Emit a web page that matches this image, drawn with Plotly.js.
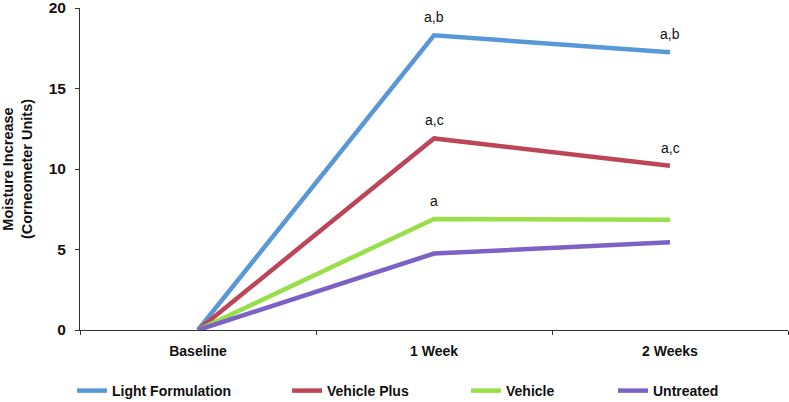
<!DOCTYPE html>
<html>
<head>
<meta charset="utf-8">
<script src="https://cdn.plot.ly/plotly-3.0.1.min.js"></script>
<style>
  html, body { margin: 0; padding: 0; background: #fff; }
  #plot { width: 789px; height: 402px; }
</style>
</head>
<body>
<div id="plot"></div>
<script>
// time points
let timePoints = ["Baseline", "1 Week", "2 Weeks"];

// moisture increase per group (corneometer units)
let lightFormulation = [0, 18.3, 17.25];
let vehiclePlus = [0, 11.9, 10.2];
let vehicle = [0, 6.9, 6.85];
let untreated = [0, 4.75, 5.45];

// y ticks
let yTicks = [0, 5, 10, 15, 20];

// significance letters shown above points
let lightLabels = ["", "a,b", "a,b"];
let vehiclePlusLabels = ["", "a,c", "a,c"];
let vehicleLabels = ["", "a", ""];

let font = "'Liberation Sans', Arial, Helvetica, sans-serif";

function lineTrace(name, values, color, legendId) {
  return {
    x: timePoints,
    y: values,
    type: "scatter",
    mode: "lines",
    name: name,
    legend: legendId,
    line: { color: color, width: 4.5 },
    cliponaxis: false
  };
}

let trace1 = lineTrace("Light Formulation", lightFormulation, "#5898d6", "legend");
let trace2 = lineTrace("Vehicle Plus", vehiclePlus, "#bc4658", "legend2");
let trace3 = lineTrace("Vehicle", vehicle, "#98df4a", "legend3");
let trace4 = lineTrace("Untreated", untreated, "#7d62c5", "legend4");

let traceData = [trace1, trace2, trace3, trace4];

// data labels
let annotations = [];
function addLabels(labels, values) {
  labels.forEach(function (txt, i) {
    if (!txt) return;
    annotations.push({
      x: timePoints[i],
      y: values[i],
      xref: "x",
      yref: "y",
      text: txt,
      showarrow: false,
      yanchor: "bottom",
      yshift: 8,
      font: { family: font, size: 14, color: "#111" }
    });
  });
}
addLabels(lightLabels, lightFormulation);
addLabels(vehiclePlusLabels, vehiclePlus);
addLabels(vehicleLabels, vehicle);

function legendAt(px) {
  return {
    orientation: "h",
    xref: "container",
    yref: "container",
    x: px / 789,
    xanchor: "left",
    y: 1 - 391 / 402,
    yanchor: "middle",
    bgcolor: "rgba(0,0,0,0)",
    font: { family: font, size: 14, color: "#111", weight: "bold" }
  };
}

let layout = {
  width: 789,
  height: 402,
  margin: { l: 80, r: 1, t: 8, b: 72 },
  paper_bgcolor: "#fff",
  plot_bgcolor: "#fff",
  font: { family: font, color: "#111" },
  showlegend: true,
  legend: legendAt(72),
  legend2: legendAt(287),
  legend3: legendAt(466),
  legend4: legendAt(613),
  xaxis: {
    type: "category",
    range: [-0.5, 2.5],
    showline: true,
    linecolor: "#333",
    linewidth: 1,
    showgrid: false,
    zeroline: false,
    ticks: "outside",
    tickson: "boundaries",
    ticklen: 4,
    tickcolor: "#333",
    ticklabelstandoff: 8,
    tickfont: { family: font, size: 14, color: "#111", weight: "bold" }
  },
  yaxis: {
    range: [0, 20],
    tickmode: "array",
    tickvals: yTicks,
    ticktext: yTicks.map(String),
    ticklabeloverflow: "allow",
    showline: true,
    linecolor: "#333",
    linewidth: 1,
    showgrid: false,
    zeroline: false,
    ticks: "outside",
    ticklen: 4,
    tickcolor: "#333",
    ticklabelstandoff: 6,
    tickfont: { family: font, size: 15.5, color: "#111", weight: "bold" },
    title: {
      text: "Moisture Increase<br>(Corneometer Units)",
      font: { family: font, size: 14.5, color: "#111", weight: "bold" },
      standoff: 12
    }
  },
  annotations: annotations
};

Plotly.newPlot("plot", traceData, layout, { displayModeBar: false, staticPlot: true });
</script>
</body>
</html>
